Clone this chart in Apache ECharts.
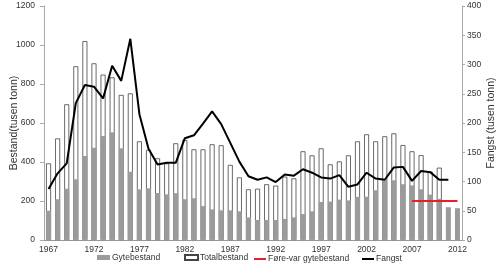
<!DOCTYPE html>
<html><head><meta charset="utf-8">
<script src="https://cdn.jsdelivr.net/npm/echarts@6/dist/echarts.min.js"></script>
<style>html,body{margin:0;padding:0;background:#fff}#c{width:500px;height:270px}</style>
</head><body><div id="c"></div>
<script>
const years = ['1967','1968','1969','1970','1971','1972','1973','1974','1975','1976','1977','1978','1979','1980','1981','1982','1983','1984','1985','1986','1987','1988','1989','1990','1991','1992','1993','1994','1995','1996','1997','1998','1999','2000','2001','2002','2003','2004','2005','2006','2007','2008','2009','2010','2011','2012'];
const gytebestand = [150,209,263,311,431,473,533,552,470,350,260,265,241,234,240,209,214,174,157,152,152,147,116,103,103,103,108,116,133,147,195,197,207,203,221,222,255,306,306,286,280,260,233,211,168,163];
const totalbestand = [393,521,696,891,1020,906,848,834,744,752,506,462,419,393,496,513,465,465,491,486,385,321,260,263,286,279,325,316,455,434,470,388,403,434,506,542,506,532,547,487,455,435,351,371,null,null];
const foreVar = [null,null,null,null,null,null,null,null,null,null,null,null,null,null,null,null,null,null,null,null,null,null,null,null,null,null,null,null,null,null,null,null,null,null,null,null,null,null,null,null,200,200,200,200,200,200];
const fangst = [87,114,131,234,265,262,242,298,272,344,215,156,129,132,132,174,179,199,220,198,166,134,109,103,107,99,112,110,121,115,107,105,111,91,95,115,105,103,124,125,101,118,116,103,103,null];
const leftTicks = [0,1200,200];
const rightTicks = [0,400,50];

const FONT = 'Liberation Sans';
const chart = echarts.init(document.getElementById('c'), null, {renderer:'canvas'});
const legendBase = {orient:'horizontal', top:253, itemGap:0, itemWidth:13, itemHeight:5,
  textStyle:{fontFamily:FONT,fontSize:8.5,color:'#333',padding:[0,0,0,-3]}, padding:0};
chart.setOption({
  animation:false,
  textStyle:{fontFamily:FONT},
  grid:{left:44,right:38,top:6,bottom:30,containLabel:false,outerBoundsMode:'none'},
  legend:[
    Object.assign({}, legendBase, {left:97, data:[{name:'Gytebestand', icon:'rect'}]}),
    Object.assign({}, legendBase, {left:184, data:[{name:'Totalbestand', icon:'rect'}]}),
    Object.assign({}, legendBase, {left:254, top:254.5, itemWidth:12, itemHeight:2, data:[{name:'Føre-var gytebestand', icon:'rect'}]}),
    Object.assign({}, legendBase, {left:362, top:254.5, itemWidth:12, itemHeight:2, data:[{name:'Fangst', icon:'rect'}]})
  ],
  xAxis:{type:'category', data:years, boundaryGap:true,
    axisLine:{lineStyle:{color:'#999',width:1}},
    axisTick:{interval:0, length:3, lineStyle:{color:'#333'}},
    axisLabel:{interval:4, margin:5, fontSize:8.5, color:'#333', fontFamily:FONT}},
  yAxis:[
    {type:'value', min:leftTicks[0], max:leftTicks[1], interval:leftTicks[2],
     name:'Bestand(tusen tonn)', nameLocation:'middle', nameGap:30, nameRotate:90, nameMoveOverlap:false,
     nameTextStyle:{fontSize:10.5,color:'#333',fontFamily:FONT,verticalAlign:'middle'},
     axisLine:{show:true,lineStyle:{color:'#aaa'}}, axisTick:{show:true,length:4,lineStyle:{color:'#aaa'}},
     axisLabel:{fontSize:8.5,color:'#333',margin:9,fontFamily:FONT, formatter:function(v){return String(v);}}, splitLine:{show:false}},
    {type:'value', min:rightTicks[0], max:rightTicks[1], interval:rightTicks[2],
     name:'Fangst (tusen tonn)', nameLocation:'middle', nameGap:29, nameRotate:90, nameMoveOverlap:false,
     nameTextStyle:{fontSize:10.5,color:'#333',fontFamily:FONT,verticalAlign:'middle'},
     axisLine:{show:true,lineStyle:{color:'#aaa'}}, axisTick:{show:true,length:3,lineStyle:{color:'#aaa'}},
     axisLabel:{fontSize:8.5,color:'#333',margin:5,fontFamily:FONT, formatter:function(v){return String(v);}}, splitLine:{show:false}}
  ],
  series:[
    {name:'Totalbestand', type:'bar', data:totalbestand, barWidth:5, barGap:'-100%', yAxisIndex:0,
     itemStyle:{color:'#fff', borderColor:'#444', borderWidth:0.8}, z:2},
    {name:'Gytebestand', type:'bar', data:gytebestand, barWidth:5, yAxisIndex:0,
     itemStyle:{color:'#9b9b9b'}, z:3},
    {name:'Føre-var gytebestand', type:'line', data:foreVar, yAxisIndex:0, showSymbol:false, symbol:'none',
     lineStyle:{color:'#e3202b', width:2}, itemStyle:{color:'#e3202b'}, z:5},
    {name:'Fangst', type:'line', data:fangst, yAxisIndex:1, showSymbol:false, symbol:'none',
     lineStyle:{color:'#000', width:2}, itemStyle:{color:'#000'}, z:6}
  ]
});
</script></body></html>
